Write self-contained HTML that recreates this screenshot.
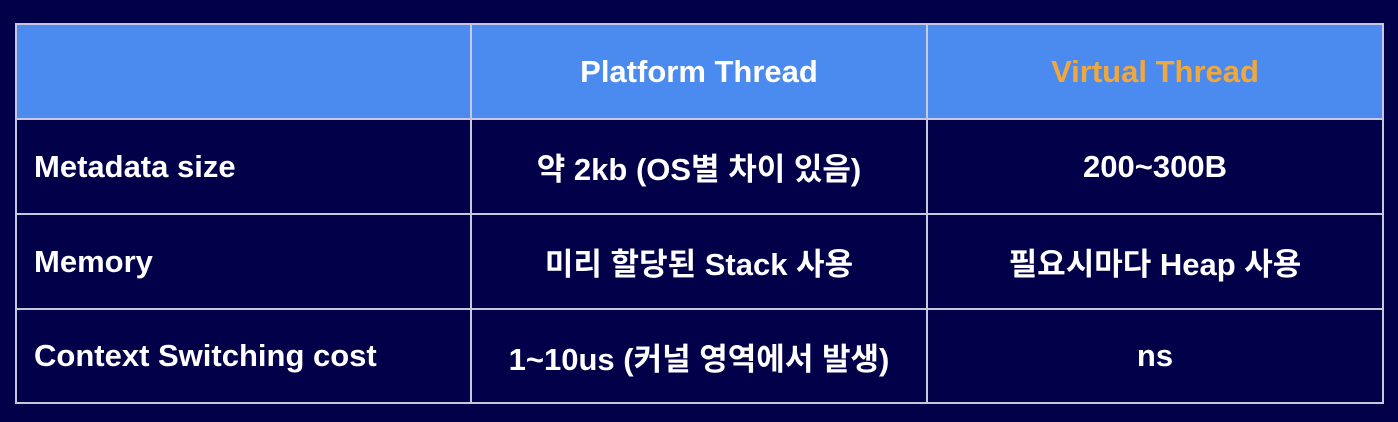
<!DOCTYPE html>
<html><head><meta charset="utf-8"><style>
body{margin:0;width:1398px;height:422px;background:#03004a;overflow:hidden;font-family:"Liberation Sans","Noto Sans CJK KR",sans-serif;}
.c{position:absolute;box-sizing:border-box;border:2px solid #c8c8dc;color:#fff;font-weight:bold;font-size:31px;display:flex;align-items:center;}
.h{background:#4b8bef;}
.m{justify-content:center;}
.l{padding-left:17px;}
</style></head><body>
<div class="c h" style="left:15px;top:23px;width:457px;height:97px"></div>
<div class="c h m" style="left:470px;top:23px;width:458px;height:97px">Platform Thread</div>
<div class="c h m" style="left:926px;top:23px;width:458px;height:97px;color:#f0a83c">Virtual Thread</div>

<div class="c l" style="left:15px;top:118px;width:457px;height:97px">Metadata size</div>
<div class="c m" style="left:470px;top:118px;width:458px;height:97px">약 2kb (OS별 차이 있음)</div>
<div class="c m" style="left:926px;top:118px;width:458px;height:97px">200~300B</div>

<div class="c l" style="left:15px;top:213px;width:457px;height:97px">Memory</div>
<div class="c m" style="left:470px;top:213px;width:458px;height:97px">미리 할당된 Stack 사용</div>
<div class="c m" style="left:926px;top:213px;width:458px;height:97px">필요시마다 Heap 사용</div>

<div class="c l" style="left:15px;top:308px;width:457px;height:96px">Context Switching cost</div>
<div class="c m" style="left:470px;top:308px;width:458px;height:96px">1~10us (커널 영역에서 발생)</div>
<div class="c m" style="left:926px;top:308px;width:458px;height:96px">ns</div>
</body></html>
